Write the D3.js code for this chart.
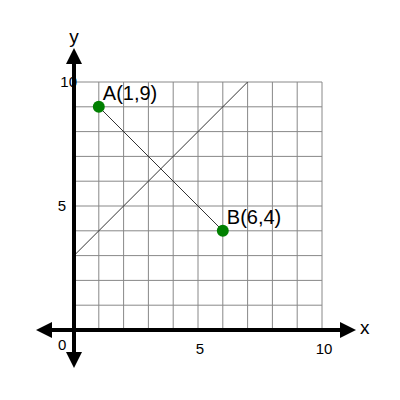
<!DOCTYPE html><html><head><script src="https://cdn.jsdelivr.net/npm/d3@7"></script>
<style>body{margin:0}</style></head><body><script>
const gridVals=[0,1,2,3,4,5,6,7,8,9,10];
const tickVals=[5,10];
const points=[{name:"A",x:1,y:9},{name:"B",x:6,y:4}];
const line2=[{x:0,y:3},{x:7,y:10}];
const svg=d3.select("body").append("svg").attr("width",400).attr("height",400);
const x=d3.scaleLinear().domain([0,10]).range([74,322]);
const y=d3.scaleLinear().domain([0,10]).range([330,82]);
const g=svg.append("g");
gridVals.forEach(v=>{
g.append("line").attr("x1",x(v)).attr("x2",x(v)).attr("y1",y(0)).attr("y2",y(10)).attr("stroke","#888");
g.append("line").attr("y1",y(v)).attr("y2",y(v)).attr("x1",x(0)).attr("x2",x(10)).attr("stroke","#888");
});
svg.append("line").attr("x1",x(line2[0].x)).attr("y1",y(line2[0].y)).attr("x2",x(line2[1].x)).attr("y2",y(line2[1].y)).attr("stroke","#333");
svg.append("line").attr("x1",x(points[0].x)).attr("y1",y(points[0].y)).attr("x2",x(points[1].x)).attr("y2",y(points[1].y)).attr("stroke","#333");
svg.append("line").attr("x1",48).attr("x2",345).attr("y1",y(0)).attr("y2",y(0)).attr("stroke","#000").attr("stroke-width",4);
svg.append("line").attr("y1",58).attr("y2",358).attr("x1",x(0)).attr("x2",x(0)).attr("stroke","#000").attr("stroke-width",4);
const Y0=y(0),X0=x(0);
svg.append("path").attr("d",`M36,${Y0}L52,${Y0-8}L52,${Y0+8}Z M356,${Y0}L340,${Y0-8}L340,${Y0+8}Z M${X0},48L${X0-8},64L${X0+8},64Z M${X0},368L${X0-8},352L${X0+8},352Z`).attr("fill","#000");
const t=svg.append("g").attr("font-family","Liberation Sans, Arial").attr("fill","#000");
t.append("text").attr("x",360).attr("y",334).attr("font-size",19).text("x");
t.append("text").attr("x",X0).attr("y",43).attr("font-size",19).attr("text-anchor","middle").text("y");
t.append("text").attr("x",58).attr("y",350).attr("font-size",15).text("0");
tickVals.forEach(v=>{
t.append("text").attr("x",x(v)+2).attr("y",354).attr("font-size",15).attr("text-anchor","middle").text(v);
t.append("text").attr("x",v==10?X0+3:X0-8).attr("y",y(v)+5).attr("font-size",15).attr("text-anchor","end").text(v);
});
points.forEach(p=>{
svg.append("circle").attr("cx",x(p.x)).attr("cy",y(p.y)).attr("r",6).attr("fill","green");
t.append("text").attr("x",x(p.x)+4).attr("y",y(p.y)-7).attr("font-size",20).text(`${p.name}(${p.x},${p.y})`);
});
</script></body></html>
